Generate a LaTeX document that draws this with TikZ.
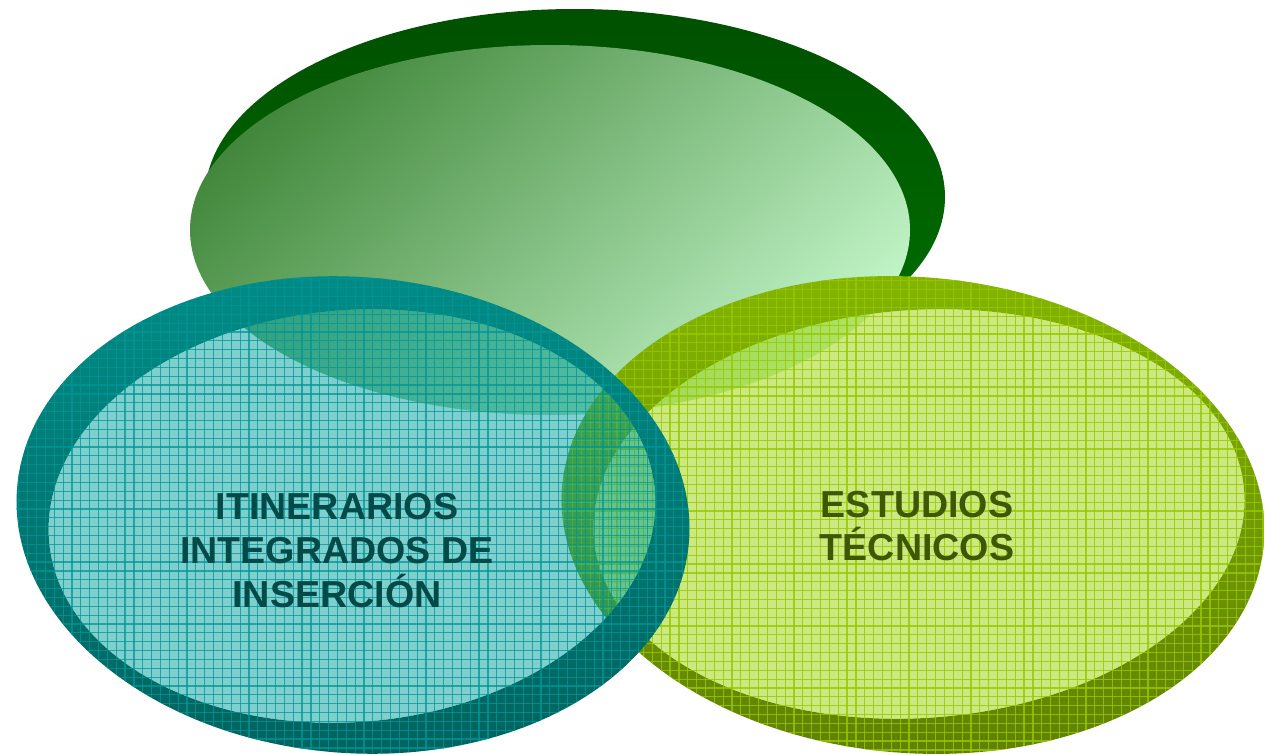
\documentclass[tikz,border=0pt]{standalone}
\usepackage{fontspec}
\setmainfont{Liberation Sans}
\definecolor{gringtop}{RGB}{0,80,0}
\definecolor{gringbot}{RGB}{0,115,0}
\definecolor{gdark}{RGB}{62,132,55}
\definecolor{glight}{RGB}{198,248,204}
\definecolor{tringtop}{RGB}{0,140,135}
\definecolor{tringbot}{RGB}{0,98,94}
\definecolor{tfill}{RGB}{0,159,159}
\definecolor{tline}{RGB}{0,150,150}
\definecolor{yringtop}{RGB}{132,182,0}
\definecolor{yringbot}{RGB}{95,128,0}
\definecolor{yfill}{RGB}{153,209,1}
\definecolor{yline}{RGB}{150,200,0}
\definecolor{ttext}{RGB}{0,74,74}
\definecolor{ytext}{RGB}{62,88,0}
\begin{document}
\begin{tikzpicture}[x=0.5pt,y=-0.5pt,
  tgrid/.style={draw=tline,line width=0.6pt,draw opacity=0.75},
  ygrid/.style={draw=yline,line width=0.6pt,draw opacity=0.8},
  lbl/.style={font=\bfseries\fontsize{18.8}{22}\selectfont,inner sep=0pt,anchor=base},
  ltext/.style={lbl,text=ttext},
  rtext/.style={lbl,text=ytext}]
\useasboundingbox (0,0) rectangle (1265,755);
\coordinate (Go) at (575,197);
\coordinate (Gi) at (550,230);
\coordinate (To) at (353,515);
\coordinate (Ti) at (352,516);
\coordinate (Yo) at (913,515);
\coordinate (Yi) at (919,514);
\def\GO{(Go) ellipse[x radius=370,y radius=188]}
\def\GI{(Gi) ellipse[x radius=360,y radius=185]}
\def\TO{(To) ellipse[x radius=337,y radius=238,rotate=-4.6]}
\def\TI{(Ti) ellipse[x radius=304,y radius=206,rotate=4.7]}
\def\YO{(Yo) ellipse[x radius=352,y radius=238,rotate=-4.6]}
\def\YI{(Yi) ellipse[x radius=326,y radius=204,rotate=4]}
% top ellipse
\shade[top color=gringtop,bottom color=gringbot] \GO;
\begin{scope}
  \clip \GI;
  \begin{scope}[transform canvas={rotate around={42:(Gi)}}]
    \shade[top color=gdark,bottom color=glight] (Gi) ++(-450,-290) rectangle ++(900,580);
  \end{scope}
\end{scope}
% yellow-green ellipse
\shade[even odd rule,top color=yringtop,bottom color=yringbot] \YO \YI;
\fill[yfill,fill opacity=0.5] \YI;
\begin{scope}
  \clip \YO;
  \foreach \i in {0,...,82} \draw[ygrid] ({555+\i*8.85},270) -- ++(0,490);
  \foreach \j in {0,...,56} \draw[ygrid] (555,{272+\j*8.85}) -- ++(720,0);
\end{scope}
% teal ellipse
\shade[even odd rule,top color=tringtop,bottom color=tringbot] \TO \TI;
\fill[tfill,fill opacity=0.5] \TI;
\begin{scope}
  \clip \TO;
  \foreach \i in {0,...,78} \draw[tgrid] ({10+\i*8.85},270) -- ++(0,490);
  \foreach \j in {0,...,56} \draw[tgrid] (10,{270+\j*8.85}) -- ++(690,0);
\end{scope}
% texts
\node[ltext] (t1) at (337,519) {ITINERARIOS};
\node[ltext] (t2) at (337,563) {INTEGRADOS DE};
\node[ltext] (t3) at (337,607) {INSERCIÓN};
\node[rtext] (r1) at (917,517) {ESTUDIOS};
\node[rtext] (r2) at (917,560) {TÉCNICOS};
\end{tikzpicture}
\end{document}
